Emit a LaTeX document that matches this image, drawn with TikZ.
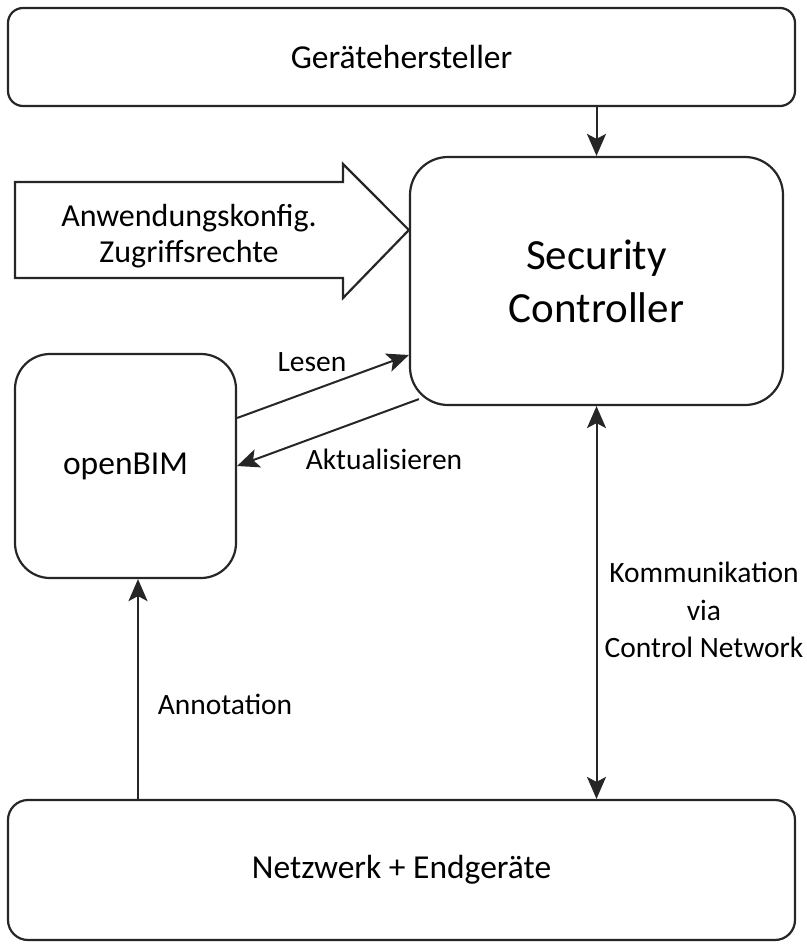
\documentclass[tikz,border=0pt]{standalone}
\usepackage{fontspec}
\setmainfont{Carlito}
\usetikzlibrary{arrows.meta,calc}
\begin{document}
\begin{tikzpicture}[x=1pt,y=-1pt,
  box/.style={draw=black!85,line width=2.2pt,fill=white,align=center,inner sep=0pt},
  boxfont/.style={font=\fontsize{33.5}{38}\selectfont},
  lbl/.style={font=\fontsize{29.5}{34}\selectfont,align=center,inner sep=0pt},
  arr/.style={draw=black!85,line width=2pt,-{Stealth[length=22pt,width=19pt,inset=5pt]}},
  darr/.style={draw=black!85,line width=2pt,{Stealth[length=22pt,width=19pt,inset=5pt]}-{Stealth[length=22pt,width=19pt,inset=5pt]}}]
\useasboundingbox (0,0) rectangle (806,947);
% boxes
\node[box,boxfont,rounded corners=15pt,minimum width=787pt,minimum height=98pt] (ger) at (401.5,57) {Gerätehersteller};
\node[box,rounded corners=38pt,minimum width=373pt,minimum height=248pt,font=\fontsize{43}{53}\selectfont] (sc) at (596.5,281) {Security\\Controller};
\node[box,boxfont,rounded corners=35pt,minimum width=221pt,minimum height=224pt] (ob) at (125.5,466) {openBIM};
\node[box,boxfont,rounded corners=20pt,minimum width=787pt,minimum height=140pt] (net) at (401.5,870) {Netzwerk + Endgeräte};
% big arrow
\draw[draw=black!85,line width=2.2pt,fill=white,line join=miter]
  (15,182) -- (343,182) -- (343,164) -- (sc.west |- 0,230) -- (343,298) -- (343,278) -- (15,278) -- cycle;
\node[lbl,font=\fontsize{32}{36}\selectfont] (cfg) at (189,236) {Anwendungskonfig.\\Zugriffsrechte};
% connectors
\draw[arr] (ger.south -| sc.north) -- (sc.north);
\draw[darr] (sc.south) -- (net.north -| sc.south);
\coordinate (annot) at ([xshift=12.5pt]ob.south);
\draw[arr] (net.north -| annot) -- (annot);
\draw[arr] ([yshift=48pt]ob.east) -- ([yshift=-74pt]sc.west);
\draw[arr] ([xshift=10pt,yshift=7pt]sc.south west) -- (ob.east);
% labels
\node[lbl] (lesen) at (312,362) {Lesen};
\node[lbl] (akt) at (384,459) {Aktualisieren};
\node[lbl] (ann) at (225,704) {Annotation};
\node[lbl,font=\fontsize{29.5}{37.5}\selectfont] (komm) at (704,610) {Kommunikation\\via\\Control Network};
\end{tikzpicture}
\end{document}
